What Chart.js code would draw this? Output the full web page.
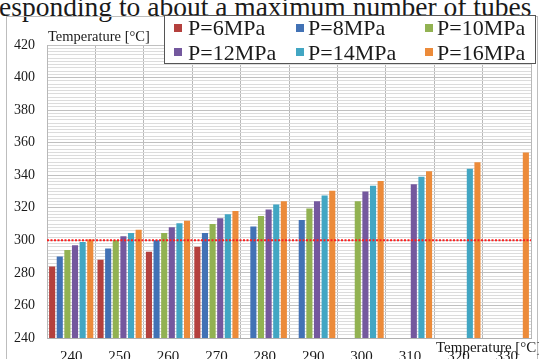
<!DOCTYPE html>
<html>
<head>
<meta charset="utf-8">
<script src="https://cdn.jsdelivr.net/npm/chart.js@4.4.1/dist/chart.umd.min.js"></script>
<style>
  html, body { margin: 0; padding: 0; background: #fff; }
  #wrap { position: relative; width: 539px; height: 359px; overflow: hidden; font-family: 'Liberation Serif', 'DejaVu Serif', serif; color: #1a1a1a; }
  #frame { position: absolute; left: 6px; top: 16px; width: 532px; height: 360px; border: 1px solid #bdbdbd; box-sizing: border-box; }
  canvas { position: absolute; left: 0; top: 0; }
  #caption { position: absolute; left: -1px; top: -7.5px; font-size: 27.5px; line-height: 1; white-space: nowrap; }
  #legend { position: absolute; left: 164px; top: 15px; width: 372px; height: 49px; border: 1px solid #555; background: #fff; box-sizing: border-box; }
  .swatch { position: absolute; width: 8px; height: 8px; }
  .item { position: absolute; font-size: 22px; line-height: 1; white-space: nowrap; }
  .axis-title { position: absolute; font-size: 14.5px; line-height: 1; white-space: nowrap; }
</style>
</head>
<body>
<div id="wrap">
  <div id="caption">esponding to about a maximum number of tubes</div>
  <div id="frame"></div>
  <canvas id="chart" width="539" height="359"></canvas>
  <div class="axis-title" style="left:48px; top:29px;">Temperature [°C]</div>
  <div class="axis-title" style="left:436px; top:339.5px; font-size:15px;">Temperature [°C]</div>
  <div id="legend"></div>
  <div id="legendItems"></div>
</div>
<script>
// Saturation temperature groups on the x axis
const categories = ['240', '250', '260', '270', '280', '290', '300', '310', '320', '330'];

// Temperature per pressure level (null = no bar in that group)
const p6  = [284, 288, 293, 296, null, null, null, null, null, null];
const p8  = [290, 295, 300, 304.5, 308.5, 312.5, null, null, null, null];
const p10 = [294, 300, 304.5, 310, 315, 319.5, 324, null, null, null];
const p12 = [297, 302.5, 308, 313.5, 319, 324, 330, 334.5, null, null];
const p14 = [299, 304.5, 310.5, 316, 322, 327.5, 333.5, 339, 344, null];
const p16 = [300.5, 306.5, 312, 318, 324, 330.5, 336.5, 342.5, 348, 354];

const seriesLabels = ['P=6MPa', 'P=8MPa', 'P=10MPa', 'P=12MPa', 'P=14MPa', 'P=16MPa'];
const seriesValues = [p6, p8, p10, p12, p14, p16];
const seriesColors = ['#b4403d', '#4272b5', '#92b252', '#74589e', '#42a6c3', '#ec8b3a'];

// Y axis range and the dotted limit line
const yMin = 240;
const yMax = 420;
const yStep = 2;
const yLabelStep = 20;
const limitTemp = 300;

const serif = "'Liberation Serif', 'DejaVu Serif', serif";

// Legend drawn as a boxed 3x2 grid over the top of the plot
function buildLegend() {
    const holder = document.getElementById('legendItems');
    const swatchX = [174, 296, 425];
    const textX = [188, 308, 437];
    const rowTop = [16.6, 41.6];
    const swatchTop = [24, 48];
    seriesLabels.forEach((label, i) => {
        const col = i % 3;
        const row = Math.floor(i / 3);
        const sw = document.createElement('div');
        sw.className = 'swatch';
        sw.style.left = swatchX[col] + 'px';
        sw.style.top = swatchTop[row] + 'px';
        sw.style.background = seriesColors[i];
        holder.appendChild(sw);
        const txt = document.createElement('div');
        txt.className = 'item';
        txt.style.left = textX[col] + 'px';
        txt.style.top = rowTop[row] + 'px';
        txt.textContent = label;
        holder.appendChild(txt);
    });
}

// Red dotted line at the limit temperature
const limitLine = {
    id: 'limitLine',
    afterDatasetsDraw(chart) {
        const { ctx, chartArea, scales } = chart;
        const y = scales.y.getPixelForValue(limitTemp);
        ctx.save();
        ctx.strokeStyle = '#ff1e1e';
        ctx.lineWidth = 2;
        ctx.setLineDash([2, 1.5]);
        ctx.beginPath();
        ctx.moveTo(chartArea.left, y);
        ctx.lineTo(chartArea.right, y);
        ctx.stroke();
        ctx.restore();
    }
};

function initializeChart() {
    const ctx = document.getElementById('chart').getContext('2d');
    new Chart(ctx, {
        type: 'bar',
        data: {
            labels: categories,
            datasets: seriesValues.map((values, i) => ({
                label: seriesLabels[i],
                data: values,
                backgroundColor: seriesColors[i],
                borderWidth: 0,
                categoryPercentage: 0.945,
                barPercentage: 0.8
            }))
        },
        options: {
            responsive: false,
            animation: false,
            layout: { padding: { top: 45, right: 8, left: 0, bottom: 0 } },
            plugins: {
                legend: { display: false },
                tooltip: { enabled: false }
            },
            scales: {
                x: {
                    grid: { color: '#b8b8b8', drawTicks: false },
                    border: { color: '#b0b0b0' },
                    ticks: {
                        color: '#1a1a1a',
                        padding: 10,
                        font: { family: serif, size: 15 }
                    },
                    afterFit(scale) { scale.height = 21; }
                },
                y: {
                    min: yMin,
                    max: yMax,
                    grid: {
                        drawTicks: false,
                        color: c => (c.tick && c.tick.value % yLabelStep === 0) ? '#c0c0c0' : '#dcdcdc'
                    },
                    border: { color: '#b8b8b8' },
                    ticks: {
                        stepSize: yStep,
                        autoSkip: false,
                        color: '#1a1a1a',
                        padding: 12,
                        font: { family: serif, size: 14 },
                        callback: v => (v % yLabelStep === 0 ? v : '')
                    },
                    afterFit(scale) { scale.width = 47; }
                }
            }
        },
        plugins: [limitLine]
    });
}

document.addEventListener('DOMContentLoaded', function() {
    buildLegend();
    initializeChart();
});
</script>
</body>
</html>
